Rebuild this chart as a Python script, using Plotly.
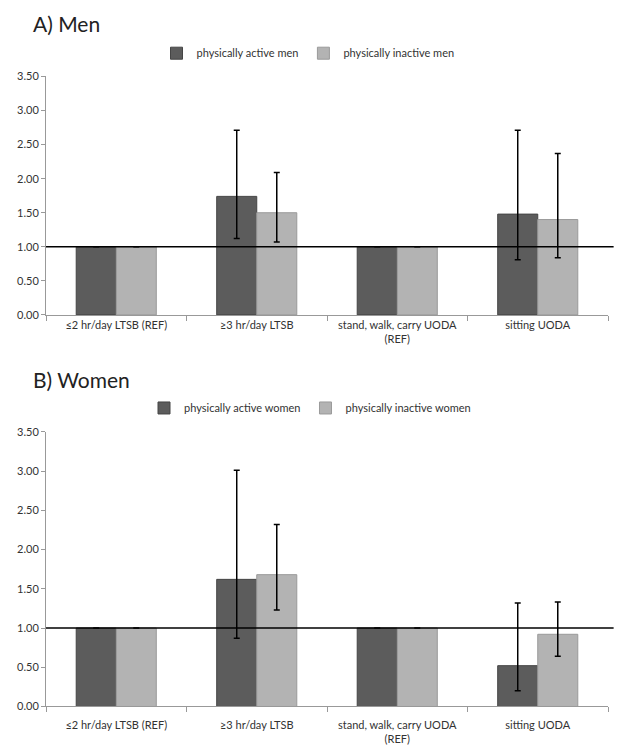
import plotly.graph_objects as go
from plotly.subplots import make_subplots

categories = ["≤2 hr/day LTSB (REF)", "≥3 hr/day LTSB",
              "stand, walk, carry UODA<br>(REF)", "sitting UODA"]

# Men
men_active = [1.00, 1.74, 1.00, 1.48]
men_active_upper = [None, 2.71, None, 2.71]
men_active_lower = [None, 1.12, None, 0.81]
men_inactive = [1.00, 1.50, 1.00, 1.40]
men_inactive_upper = [None, 2.09, None, 2.37]
men_inactive_lower = [None, 1.07, None, 0.84]

# Women
women_active = [1.00, 1.62, 1.00, 0.52]
women_active_upper = [None, 3.01, None, 1.32]
women_active_lower = [None, 0.87, None, 0.20]
women_inactive = [1.00, 1.68, 1.00, 0.92]
women_inactive_upper = [None, 2.32, None, 1.33]
women_inactive_lower = [None, 1.23, None, 0.64]

DARK = "#5c5c5c"
LIGHT = "#b3b3b3"
FONT = "Lato"


def err(vals, upper, lower):
    plus = [None if u is None else round(u - v, 3) for v, u in zip(vals, upper)]
    minus = [None if l is None else round(v - l, 3) for v, l in zip(vals, lower)]
    return dict(type="data", array=plus, arrayminus=minus, symmetric=False,
                color="black", thickness=1.5, width=3)


def bar(name, vals, upper, lower, color, line, legend):
    return go.Bar(x=categories, y=vals, name=name, legend=legend,
                  marker=dict(color=color, line=dict(color=line, width=1)),
                  error_y=err(vals, upper, lower))


fig = make_subplots(rows=2, cols=1)

fig.add_trace(bar("physically active men", men_active, men_active_upper,
                  men_active_lower, DARK, "#454545", "legend"), row=1, col=1)
fig.add_trace(bar("physically inactive men", men_inactive, men_inactive_upper,
                  men_inactive_lower, LIGHT, "#9a9a9a", "legend"), row=1, col=1)
fig.add_trace(bar("physically active women", women_active, women_active_upper,
                  women_active_lower, DARK, "#454545", "legend2"), row=2, col=1)
fig.add_trace(bar("physically inactive women", women_inactive, women_inactive_upper,
                  women_inactive_lower, LIGHT, "#9a9a9a", "legend2"), row=2, col=1)

W, H = 624, 756


def py(y):
    return 1 - y / H


fig.update_xaxes(domain=[46 / W, 608 / W], showline=True,
                 linecolor="#999", linewidth=1,
                 ticks="outside", tickson="boundaries", ticklen=5, tickcolor="#999",
                 tickfont=dict(size=11, color="#333", family=FONT), showgrid=False)
fig.update_xaxes(ticklabelstandoff=8, row=2, col=1)
fig.update_yaxes(range=[0, 3.5], dtick=0.5, tickformat=".2f", showline=True,
                 linecolor="#999", linewidth=1, ticks="outside", ticklen=4,
                 tickcolor="#999", showgrid=False, zeroline=False,
                 tickfont=dict(size=11, color="#333", family=FONT))
fig.update_yaxes(domain=[py(313.3), py(70.7)], row=1, col=1)
fig.update_yaxes(domain=[py(711.7), py(432.3)], row=2, col=1)

# reference line at 1.00
for yref, xref in (("y", "x domain"), ("y2", "x2 domain")):
    fig.add_shape(type="line", xref=xref, yref=yref, x0=0, x1=1.01, y0=1, y1=1,
                  line=dict(color="black", width=1.5))

fig.add_annotation(text="A) Men", x=31 / W, y=py(17), xref="paper", yref="paper",
                   xanchor="left", yanchor="middle", showarrow=False,
                   font=dict(size=21, color="#222", family=FONT))
fig.add_annotation(text="B) Women", x=31 / W, y=py(379), xref="paper", yref="paper",
                   xanchor="left", yanchor="middle", showarrow=False,
                   font=dict(size=21, color="#222", family=FONT))

leg = dict(orientation="h", xanchor="center", yanchor="middle",
           font=dict(size=11, color="#333", family=FONT),
           itemwidth=30, tracegroupgap=0, bgcolor="rgba(0,0,0,0)")
fig.update_layout(
    width=W, height=H,
    margin=dict(l=0, r=0, t=0, b=0),
    plot_bgcolor="white", paper_bgcolor="white",
    barmode="group", bargap=0.43, bargroupgap=0,
    legend=dict(leg, x=308 / W, y=py(47)),
    legend2=dict(leg, x=310 / W, y=py(408)),
    font=dict(family=FONT),
)

# drop the default page margin so the figure fills the window exactly
fig.write_html("out.html", config={"displayModeBar": False},
               post_script="document.body.style.margin='0';"
                           "document.body.style.overflow='hidden';")
